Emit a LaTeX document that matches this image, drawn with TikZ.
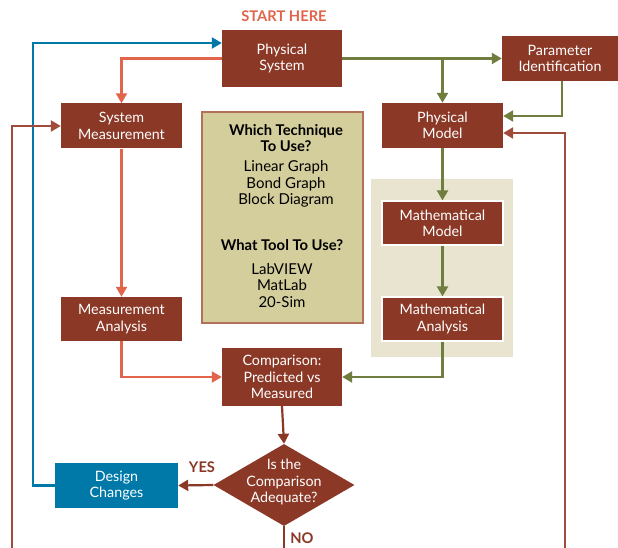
\documentclass[tikz,border=0pt]{standalone}
\usepackage{fontspec}
\setmainfont{Lato}
\usetikzlibrary{arrows.meta,shapes.geometric,calc}
\definecolor{boxred}{HTML}{8B3826}
\definecolor{loopred}{HTML}{A04B3B}
\definecolor{orng}{HTML}{E2654B}
\definecolor{grn}{HTML}{6F7E3E}
\definecolor{blu}{HTML}{0079A8}
\definecolor{khaki}{HTML}{D4CE9C}
\definecolor{khakiedge}{HTML}{B3705A}
\definecolor{beige}{HTML}{E9E4D0}
\tikzset{
  rbox/.style={rectangle, fill=boxred, text=white, align=center, inner sep=0pt,
    font=\fontsize{14.3}{16.3}\selectfont},
  wbox/.style={rbox, draw=white, line width=1.2pt},
  conn/.style={line width=2.2pt, -{Triangle[length=10pt,width=11pt]}},
  plain/.style={line width=2.2pt},
  lbl/.style={font=\fontsize{14.7}{16}\selectfont\bfseries, inner sep=0pt},
  info/.style={font=\fontsize{15}{16.5}\selectfont, align=center, inner sep=0pt, text=black}
}
\begin{document}
\begin{tikzpicture}[x=1pt,y=-1pt]
\useasboundingbox (0,0) rectangle (618,548);
\fill[white] (0,0) rectangle (618,548);
% beige background
\fill[beige] (371,179) rectangle (513,357);
% info box
\node[rectangle, fill=khaki, draw=khakiedge, line width=1.2pt, minimum width=161pt, minimum height=211pt, inner sep=0pt] (info) at (282.5,217.5) {};
\node[info, font=\fontsize{14.8}{16.5}\selectfont\bfseries] (q1) at (286,138) {Which Technique\\To Use?};
\node[info] (t1) at (286,184) {Linear Graph\\Bond Graph\\Block Diagram};
\node[info, font=\fontsize{14.8}{16.5}\selectfont\bfseries] (q2) at (282,245) {What Tool To Use?};
\node[info] (t2) at (282,285.5) {LabVIEW\\MatLab\\20-Sim};
% boxes
\node[lbl, text=orng] (start) at (284,16) {START HERE};
\node[rbox, minimum width=120pt, minimum height=57pt] (ps) at (282,58.5) {Physical\\System};
\node[rbox, minimum width=116pt, minimum height=45pt] (pid) at (560,58.5) {Parameter\\Identification};
\node[rbox, minimum width=121pt, minimum height=45pt] (sm) at (121.5,126) {System\\Measurement};
\node[rbox, minimum width=121pt, minimum height=45pt] (pm) at (442.5,125.5) {Physical\\Model};
\node[wbox, minimum width=121pt, minimum height=44pt] (mm) at (442.5,223) {Mathematical\\Model};
\node[wbox, minimum width=121pt, minimum height=44pt] (man) at (442.5,319) {Mathematical\\Analysis};
\node[rbox, minimum width=121pt, minimum height=44pt] (meas) at (121.5,319) {Measurement\\Analysis};
\node[rbox, minimum width=120pt, minimum height=58pt] (cmp) at (282,377) {Comparison:\\Predicted vs\\Measured};
\node[diamond, fill=boxred, minimum width=141pt, minimum height=82pt, inner sep=0pt] (dec) at (284,485) {};
\node[rbox, fill=none] (dect) at (284,482) {Is the\\Comparison\\Adequate?};
\node[rbox, fill=blu, minimum width=123pt, minimum height=45pt] (dc) at (116.5,485.5) {Design\\Changes};
\node[lbl, text=boxred] (yes) at (202,467) {YES};
\node[lbl, text=boxred] (no) at (302,538) {NO};
% coordinates
\coordinate (bl) at (12,548);
\coordinate (br) at (565,548);
\coordinate (bc) at (284,548);
% connectors
\draw[conn, blu] (dc.west) -- ++(-22,0) |- ([yshift=15.5pt]ps.west);
\draw[conn, orng] (ps.west) -| (sm.north);
\draw[conn, orng] (sm.south) -- (meas.north);
\draw[conn, orng] (meas.south) |- (cmp.west);
\draw[conn, grn] (ps.east) -- (pid.west);
\draw[conn, grn] (pm.north |- ps.east) -- (pm.north);
\draw[conn, grn] ([xshift=2pt]pid.south) |- ([yshift=9.5pt]pm.east);
\draw[conn, loopred] (br) |- ([yshift=-7.5pt]pm.east);
\draw[conn, loopred] (bl) |- (sm.west);
\draw[conn, grn] (pm.south) -- (mm.north);
\draw[conn, grn] (mm.south) -- (man.north);
\draw[conn, grn] (man.south) |- (cmp.east);
\draw[conn, boxred] (cmp.south) -- (dec.north);
\draw[conn, boxred] (dec.west) -- (dc.east);
\draw[plain, boxred] (dec.south) -- (bc);
\end{tikzpicture}
\end{document}
